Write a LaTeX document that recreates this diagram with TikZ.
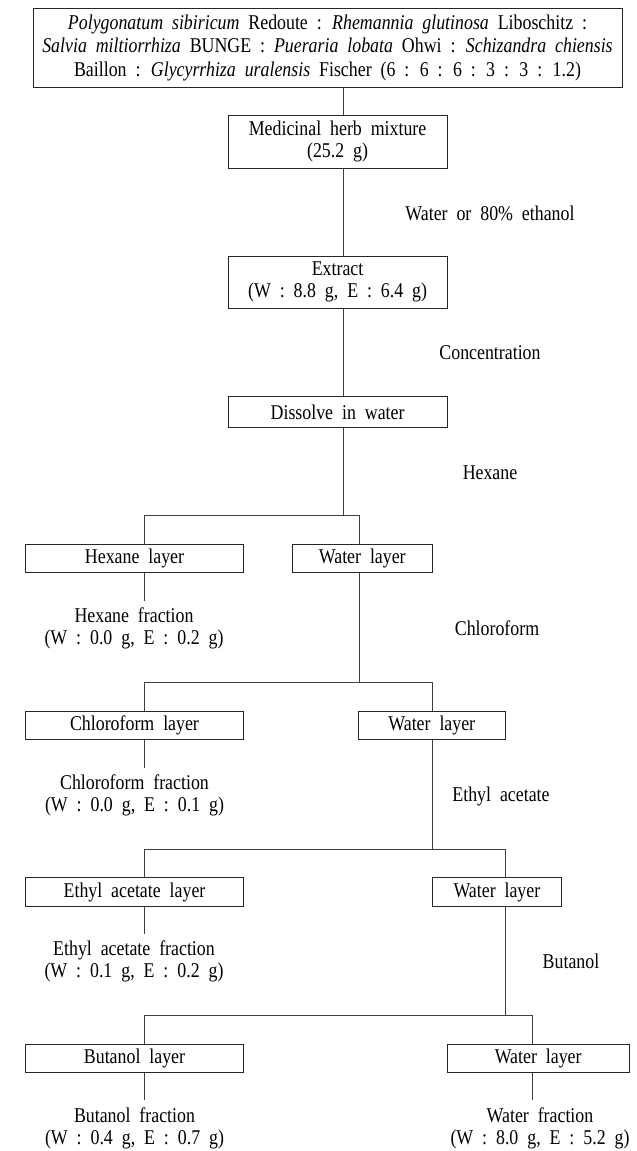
\documentclass[tikz,border=0pt]{standalone}
\usepackage{fontspec}
\setmainfont{Liberation Serif}[WordSpace=2, FakeStretch=0.85]
\newcommand{\fsz}{\fontsize{21}{22}\selectfont}
\newcommand{\fsztop}{\fontsize{21}{23.5}\selectfont}
\begin{document}
\begin{tikzpicture}[x=1pt,y=-1pt,
  box/.style={draw=black!85, line width=0.9pt, minimum height=28.5pt, inner sep=0pt, align=center, font=\fsz},
  lbl/.style={inner sep=0pt, align=center, font=\fsz},
  frac/.style={anchor=north, inner xsep=0pt, inner ysep=7pt, align=center, font=\fsz},
  conn/.style={draw=black!75, line width=0.9pt}]
\useasboundingbox (0,0) rectangle (637,1151);
% boxes
\node[box, font=\fsztop, minimum width=589pt, minimum height=79pt] (top) at (327.5,47.5)
 {\textit{Polygonatum sibiricum} Redoute : \textit{Rhemannia glutinosa} Liboschitz :\\
  \textit{Salvia miltiorrhiza} BUNGE : \textit{Pueraria lobata} Ohwi : \textit{Schizandra chiensis}\\
  Baillon : \textit{Glycyrrhiza uralensis} Fischer (6 : 6 : 6 : 3 : 3 : 1.2)};
\node[box, minimum width=219pt, minimum height=53pt] (med) at (337.6,141.5) {Medicinal herb mixture\\(25.2 g)};
\node[box, minimum width=219pt, minimum height=52pt] (ext) at (337.6,282) {Extract\\(W : 8.8 g, E : 6.4 g)};
\node[box, minimum width=219pt, minimum height=31pt] (diss) at (337.6,412.2) {Dissolve in water};
\node[box, minimum width=217.6pt] (hexL) at (134.5,558.5) {Hexane layer};
\node[box, minimum width=140pt] (wat1) at (362.3,558.5) {Water layer};
\node[box, minimum width=217.6pt] (chlL) at (134.5,725.5) {Chloroform layer};
\node[box, minimum width=147pt] (wat2) at (431.8,725.5) {Water layer};
\node[box, minimum width=217.6pt] (ethL) at (134.5,892) {Ethyl acetate layer};
\node[box, minimum width=129.7pt] (wat3) at (496.9,892) {Water layer};
\node[box, minimum width=217.6pt] (butL) at (134.5,1058.3) {Butanol layer};
\node[box, minimum width=182.3pt] (wat4) at (538.2,1058.3) {Water layer};
% solvent labels
\node[lbl] (lab1) at (490,213) {Water or 80\% ethanol};
\node[lbl] (lab2) at (490,353) {Concentration};
\node[lbl] (lab3) at (490,473) {Hexane};
\node[lbl] (lab4) at (497,628) {Chloroform};
\node[lbl] (lab5) at (501,796) {Ethyl acetate};
\node[lbl] (lab6) at (571,961.7) {Butanol};
% fractions
\node[frac] (hexF) at (134,601) {Hexane fraction\\(W : 0.0 g, E : 0.2 g)};
\node[frac] (chlF) at (134.5,767.7) {Chloroform fraction\\(W : 0.0 g, E : 0.1 g)};
\node[frac] (ethF) at (134,934) {Ethyl acetate fraction\\(W : 0.1 g, E : 0.2 g)};
\node[frac] (butF) at (134.5,1100) {Butanol fraction\\(W : 0.4 g, E : 0.7 g)};
\node[frac] (watF) at (540,1100) {Water fraction\\(W : 8.0 g, E : 5.2 g)};
% helper coordinates
\coordinate (sp) at (343.7,0);
\coordinate (L) at (144.3,0);
\coordinate (R1) at (359,0);
\coordinate (R2) at (432.3,0);
\coordinate (R3) at (505.3,0);
\coordinate (R4) at (532,0);
\coordinate (h1) at (0,515.7);
\coordinate (h2) at (0,682.7);
\coordinate (h3) at (0,849.3);
\coordinate (h4) at (0,1015.7);
% connectors
\draw[conn] (top.south -| sp) -- (med.north -| sp);
\draw[conn] (med.south -| sp) -- (ext.north -| sp);
\draw[conn] (ext.south -| sp) -- (diss.north -| sp);
\draw[conn] (diss.south -| sp) -- (sp |- h1);
\draw[conn] (hexL.north -| L) -- (L |- h1) -- (R1 |- h1) -- (wat1.north -| R1);
\draw[conn] (hexL.south -| L) -- (hexF.north -| L);
\draw[conn] (wat1.south -| R1) -- (R1 |- h2);
\draw[conn] (chlL.north -| L) -- (L |- h2) -- (R2 |- h2) -- (wat2.north -| R2);
\draw[conn] (chlL.south -| L) -- (chlF.north -| L);
\draw[conn] (wat2.south -| R2) -- (R2 |- h3);
\draw[conn] (ethL.north -| L) -- (L |- h3) -- (R3 |- h3) -- (wat3.north -| R3);
\draw[conn] (ethL.south -| L) -- (ethF.north -| L);
\draw[conn] (wat3.south -| R3) -- (R3 |- h4);
\draw[conn] (butL.north -| L) -- (L |- h4) -- (R4 |- h4) -- (wat4.north -| R4);
\draw[conn] (butL.south -| L) -- (butF.north -| L);
\draw[conn] (wat4.south -| R4) -- (watF.north -| R4);
\end{tikzpicture}
\end{document}
